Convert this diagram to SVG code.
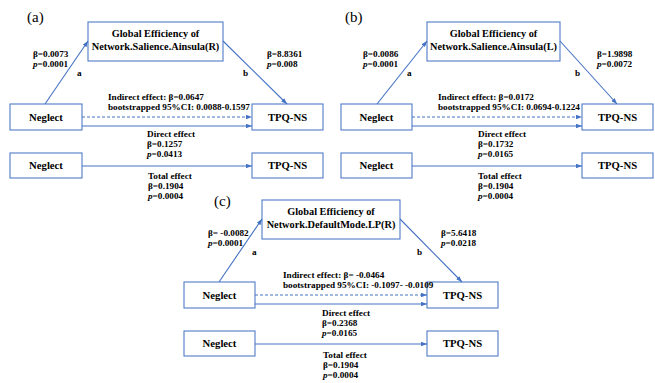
<svg xmlns="http://www.w3.org/2000/svg" width="655" height="383" viewBox="0 0 655 383">
<defs>
<marker id="ah" viewBox="0 0 8 6" refX="8" refY="3" markerWidth="6" markerHeight="4.5" orient="auto" markerUnits="userSpaceOnUse">
<path d="M0,0 L8,3 L0,6 Z" fill="#4472C4"/>
</marker>
<style>
.box{fill:#fff;stroke:#4F7BC6;stroke-width:1.1}
.ln{stroke:#4472C4;stroke-width:1.1;fill:none;marker-end:url(#ah)}
.dash{stroke-dasharray:3,2}
.bt{font-family:"Liberation Serif","Times New Roman",serif;font-weight:bold;font-size:10.7px;fill:#000;text-anchor:middle}
.mt{font-family:"Liberation Serif","Times New Roman",serif;font-weight:bold;font-size:10.3px;fill:#000;text-anchor:middle}
.lb{font-family:"Liberation Serif","Times New Roman",serif;font-weight:bold;font-size:9.2px;fill:#000}
.pl{font-family:"Liberation Serif","Times New Roman",serif;font-size:15px;fill:#000}
</style>
</defs>
<rect width="655" height="383" fill="#fff"/>

<!-- Panel (a) -->
<text class="pl" x="27" y="22">(a)</text>
<g id="a-mediator"><rect class="box" x="88" y="22" width="135" height="39"/><text class="mt" x="155.5" y="37">Global Efficiency of</text><text class="mt" x="155.5" y="50">Network.Salience.Ainsula(R)</text></g>
<g id="a-neglect1"><rect class="box" x="10" y="104" width="72" height="26"/><text class="bt" x="46" y="121">Neglect</text></g>
<g id="a-tpq1"><rect class="box" x="252" y="104" width="71" height="26"/><text class="bt" x="287.5" y="121">TPQ-NS</text></g>
<g id="a-neglect2"><rect class="box" x="10" y="153" width="72" height="25"/><text class="bt" x="46" y="169">Neglect</text></g>
<g id="a-tpq2"><rect class="box" x="252" y="153" width="71" height="25"/><text class="bt" x="287.5" y="169">TPQ-NS</text></g>

<!-- Panel (b) -->
<text class="pl" x="345" y="22">(b)</text>
<g id="b-mediator"><rect class="box" x="427" y="22" width="133" height="39"/><text class="mt" x="493.5" y="37">Global Efficiency of</text><text class="mt" x="493.5" y="50">Network.Salience.Ainsula(L)</text></g>
<g id="b-neglect1"><rect class="box" x="341" y="104" width="71" height="26"/><text class="bt" x="376.5" y="121">Neglect</text></g>
<g id="b-tpq1"><rect class="box" x="582" y="104" width="71" height="26"/><text class="bt" x="617.5" y="121">TPQ-NS</text></g>
<g id="b-neglect2"><rect class="box" x="341" y="153" width="71" height="25"/><text class="bt" x="376.5" y="169">Neglect</text></g>
<g id="b-tpq2"><rect class="box" x="582" y="153" width="71" height="25"/><text class="bt" x="617.5" y="169">TPQ-NS</text></g>

<!-- Panel (c) -->
<text class="pl" x="214" y="206">(c)</text>
<g id="c-mediator"><rect class="box" x="262" y="200" width="138" height="39"/><text class="mt" x="331" y="215">Global Efficiency of</text><text class="mt" x="331" y="228">Network.DefaultMode.LP(R)</text></g>
<g id="c-neglect1"><rect class="box" x="184" y="282" width="71" height="26"/><text class="bt" x="219.5" y="299">Neglect</text></g>
<g id="c-tpq1"><rect class="box" x="427" y="282" width="71" height="26"/><text class="bt" x="462.5" y="299">TPQ-NS</text></g>
<g id="c-neglect2"><rect class="box" x="184" y="331" width="71" height="25"/><text class="bt" x="219.5" y="347">Neglect</text></g>
<g id="c-tpq2"><rect class="box" x="427" y="331" width="71" height="25"/><text class="bt" x="462.5" y="347">TPQ-NS</text></g>

<g id="connectors">
<line class="ln" x1="45" y1="104" x2="88" y2="41"/>
<line class="ln" x1="223" y1="41" x2="287" y2="104"/>
<line class="ln dash" x1="82" y1="117" x2="252" y2="117"/>
<line class="ln" x1="82" y1="126" x2="252" y2="126"/>
<line class="ln" x1="82" y1="166" x2="252" y2="166"/>

<line class="ln" x1="377" y1="104" x2="427" y2="41"/>
<line class="ln" x1="560" y1="41" x2="617" y2="104"/>
<line class="ln dash" x1="412" y1="117" x2="582" y2="117"/>
<line class="ln" x1="412" y1="126" x2="582" y2="126"/>
<line class="ln" x1="412" y1="166" x2="582" y2="166"/>

<line class="ln" x1="219" y1="282" x2="262" y2="219"/>
<line class="ln" x1="400" y1="219" x2="462" y2="282"/>
<line class="ln dash" x1="255" y1="295" x2="427" y2="295"/>
<line class="ln" x1="255" y1="304" x2="427" y2="304"/>
<line class="ln" x1="255" y1="344" x2="427" y2="344"/>
</g>

<g id="labels-a">
<text class="lb" x="33" y="57">β=0.0073</text>
<text class="lb" x="33" y="67"><tspan font-style="italic">p</tspan>=0.0001</text>
<text class="lb" x="77" y="76">a</text>
<text class="lb" x="243" y="76">b</text>
<text class="lb" x="267" y="57">β=8.8361</text>
<text class="lb" x="267" y="67"><tspan font-style="italic">p</tspan>=0.008</text>
<text class="lb" x="108" y="100">Indirect effect: β=0.0647</text>
<text class="lb" x="108" y="110">bootstrapped 95%CI: 0.0088-0.1597</text>
<text class="lb" x="147" y="137">Direct effect</text>
<text class="lb" x="147" y="147">β=0.1257</text>
<text class="lb" x="147" y="157"><tspan font-style="italic">p</tspan>=0.0413</text>
<text class="lb" x="148" y="179">Total effect</text>
<text class="lb" x="148" y="189">β=0.1904</text>
<text class="lb" x="148" y="199"><tspan font-style="italic">p</tspan>=0.0004</text>
</g>

<g id="labels-b">
<text class="lb" x="363" y="57">β=0.0086</text>
<text class="lb" x="363" y="67"><tspan font-style="italic">p</tspan>=0.0001</text>
<text class="lb" x="407" y="76">a</text>
<text class="lb" x="575" y="76">b</text>
<text class="lb" x="597" y="57">β=1.9898</text>
<text class="lb" x="597" y="67"><tspan font-style="italic">p</tspan>=0.0072</text>
<text class="lb" x="438" y="100">Indirect effect: β=0.0172</text>
<text class="lb" x="438" y="110">bootstrapped 95%CI: 0.0694-0.1224</text>
<text class="lb" x="478" y="137">Direct effect</text>
<text class="lb" x="478" y="147">β=0.1732</text>
<text class="lb" x="478" y="157"><tspan font-style="italic">p</tspan>=0.0165</text>
<text class="lb" x="478" y="179">Total effect</text>
<text class="lb" x="478" y="189">β=0.1904</text>
<text class="lb" x="478" y="199"><tspan font-style="italic">p</tspan>=0.0004</text>
</g>

<g id="labels-c">
<text class="lb" x="208" y="236">β= -0.0082</text>
<text class="lb" x="208" y="246"><tspan font-style="italic">p</tspan>=0.0001</text>
<text class="lb" x="252" y="255">a</text>
<text class="lb" x="417" y="255">b</text>
<text class="lb" x="441" y="236">β=5.6418</text>
<text class="lb" x="441" y="246"><tspan font-style="italic">p</tspan>=0.0218</text>
<text class="lb" x="283" y="278">Indirect effect: β= -0.0464</text>
<text class="lb" x="283" y="288">bootstrapped 95%CI: -0.1097- -0.0109</text>
<text class="lb" x="322" y="316">Direct effect</text>
<text class="lb" x="322" y="326">β=0.2368</text>
<text class="lb" x="322" y="336"><tspan font-style="italic">p</tspan>=0.0165</text>
<text class="lb" x="323" y="358">Total effect</text>
<text class="lb" x="323" y="368">β=0.1904</text>
<text class="lb" x="323" y="378"><tspan font-style="italic">p</tspan>=0.0004</text>
</g>
</svg>
